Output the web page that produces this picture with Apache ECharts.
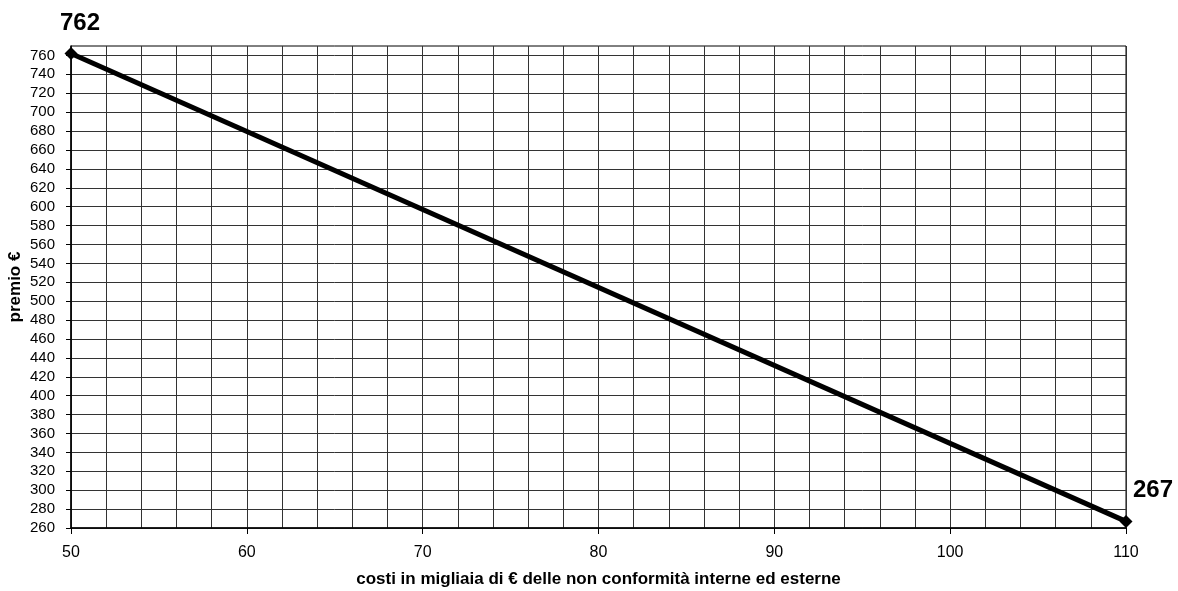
<!DOCTYPE html>
<html>
<head>
<meta charset="utf-8">
<script src="https://cdn.jsdelivr.net/npm/echarts@6/dist/echarts.min.js"></script>
<style>
  html, body { margin: 0; padding: 0; background: #fff; }
  #chart { width: 1178px; height: 591px; }
</style>
</head>
<body>
<div id="chart"></div>
<script>
// costi (migliaia di euro) e premio corrispondente
var costi = [50, 110];
var premio = [762, 267];
var xTickLabels = [50, 60, 70, 80, 90, 100, 110];
var yTickLabels = [260, 280, 300, 320, 340, 360, 380, 400, 420, 440, 460, 480, 500, 520, 540, 560, 580, 600, 620, 640, 660, 680, 700, 720, 740, 760];

var chart = echarts.init(document.getElementById('chart'));

var points = [];
for (var i = 0; i < costi.length; i++) {
    points.push([costi[i], premio[i]]);
}

chart.setOption({
    animation: false,
    textStyle: { fontFamily: 'Liberation Sans, Arial, sans-serif' },
    grid: {
        left: 71, right: 52, top: 46, bottom: 63,
        containLabel: false, outerBoundsMode: 'none',
        show: true, borderColor: '#000', borderWidth: 1
    },
    xAxis: {
        type: 'value',
        min: 50, max: 110, interval: 10,
        name: 'costi in migliaia di € delle non conformità interne ed esterne',
        nameLocation: 'middle',
        nameGap: 43,
        nameTextStyle: { fontSize: 17, fontWeight: 'bold', color: '#000' },
        axisLine: { lineStyle: { color: '#000', width: 1.5 } },
        axisTick: { show: true, length: 6, lineStyle: { color: '#000' } },
        axisLabel: { customValues: xTickLabels, margin: 17, fontSize: 16, color: '#000' },
        splitLine: { show: true, lineStyle: { color: '#333', width: 1 } },
        minorTick: { show: false, splitNumber: 5 },
        minorSplitLine: { show: true, lineStyle: { color: '#333', width: 1 } }
    },
    yAxis: {
        type: 'value',
        min: 260, max: 770, interval: 20,
        name: 'premio €',
        nameLocation: 'middle',
        nameGap: 47,
        nameMoveOverlap: false,
        nameTextStyle: { fontSize: 17, fontWeight: 'bold', color: '#000' },
        axisLine: { show: true, lineStyle: { color: '#000', width: 1.5 } },
        axisTick: { show: true, customValues: yTickLabels, length: 5, lineStyle: { color: '#000' } },
        axisLabel: { customValues: yTickLabels, margin: 16, fontSize: 15, color: '#000' },
        splitLine: { show: true, lineStyle: { color: '#333', width: 1 } }
    },
    series: [{
        type: 'line',
        data: points,
        symbol: 'diamond',
        symbolSize: 13,
        showAllSymbol: true,
        clip: false,
        lineStyle: { color: '#000', width: 5 },
        itemStyle: { color: '#000' },
        label: {
            show: true,
            fontSize: 24,
            fontWeight: 'bold',
            color: '#000',
            formatter: function (p) { return p.value[1]; }
        },
        labelLayout: function (params) {
            if (params.dataIndex === 0) {
                return { dx: 9, dy: -7 };
            }
            return { dx: 27, dy: -8 };
        }
    }]
});
</script>
</body>
</html>
